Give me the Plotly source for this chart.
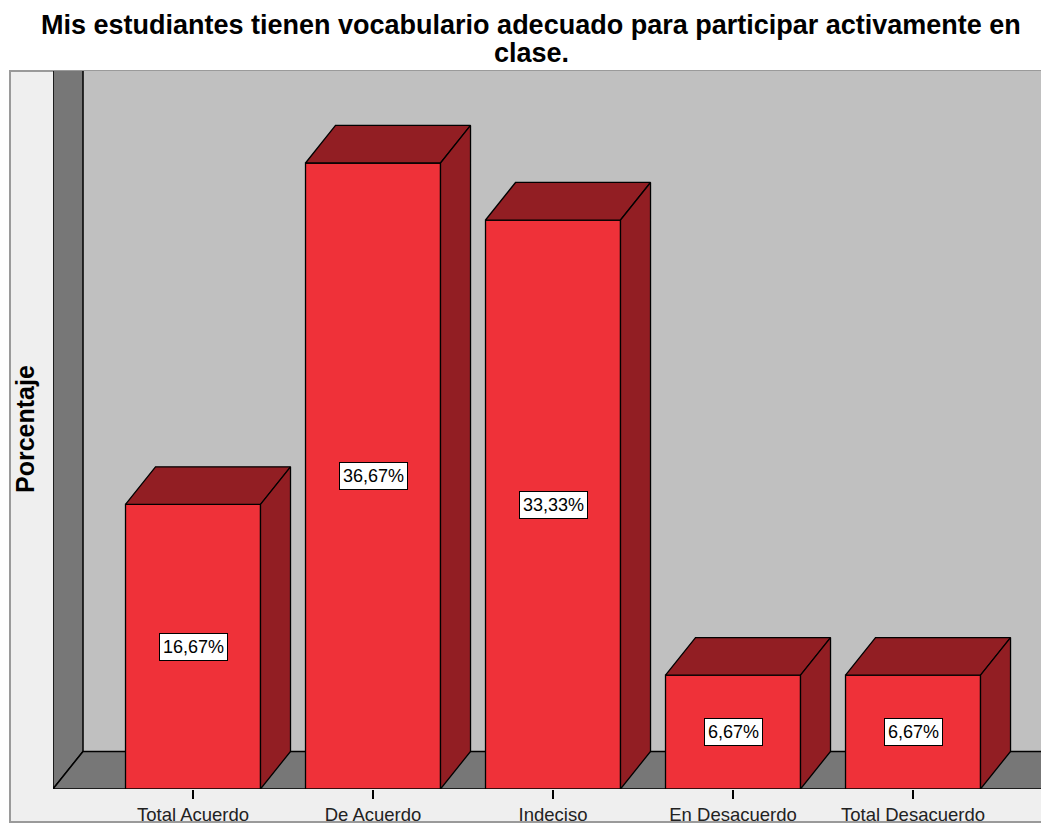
import plotly.graph_objects as go

# ---- data ----
categories = ["Total Acuerdo", "De Acuerdo", "Indeciso", "En Desacuerdo", "Total Desacuerdo"]
values = [16.67, 36.67, 33.33, 6.67, 6.67]
labels = ["16,67%", "36,67%", "33,33%", "6,67%", "6,67%"]
title_lines = ["Mis estudiantes tienen vocabulario adecuado para participar activamente en", "clase."]
y_title = "Porcentaje"

# ---- geometry (in axis units) ----
W = 0.75          # bar width (category units)
DX = 0.1667       # 3D depth offset x
DY = 2.2          # 3D depth offset y
XMIN, XMAX = -0.7778, 4.711
YMAX = 42.06

FRONT = "#ef3139"
DARK = "#921e23"
WALL_SIDE = "#777777"
WALL_BACK = "#c0c0c0"
STRIP = "#efefef"
FONT = "Liberation Sans"

fig = go.Figure()

def poly(xs, ys, fill, lw=1.3):
    fig.add_trace(go.Scatter(
        x=xs + [xs[0]], y=ys + [ys[0]], mode="lines", fill="toself",
        fillcolor=fill, line=dict(color="black", width=lw),
        hoverinfo="skip", showlegend=False))

# walls
poly([XMIN + DX, XMAX + 0.5, XMAX + 0.5, XMIN + DX], [DY, DY, YMAX + 5, YMAX + 5], WALL_BACK, 0)
poly([XMIN, XMIN + DX, XMIN + DX, XMIN], [0, DY, YMAX + 5, YMAX + 5], WALL_SIDE, 1.5)
poly([XMIN, XMIN + DX, XMAX + 0.5, XMAX + 0.5], [0, DY, DY, 0], WALL_SIDE, 1.5)

# bars
for i, v in enumerate(values):
    l, r = i - W / 2, i + W / 2
    poly([l, r, r, l], [0, 0, v, v], FRONT)
    poly([l, r, r + DX, l + DX], [v, v, v + DY, v + DY], DARK)
    poly([r, r + DX, r + DX, r], [0, DY, v + DY, v], DARK)
    fig.add_annotation(x=i, y=v / 2, text=labels[i], showarrow=False,
                       font=dict(family=FONT, size=18, color="black"),
                       bgcolor="white", bordercolor="black", borderwidth=1, borderpad=3)

L, T, B = 53, 71, 36
pw, ph = 1041 - L, 825 - T - B

def px_x(p):
    return (p - L) / pw

def px_y(p):
    return (825 - B - p) / ph

# outer frame
fig.add_shape(type="rect", xref="paper", yref="paper",
              x0=px_x(10), x1=px_x(1045), y0=px_y(822), y1=px_y(71),
              fillcolor=STRIP, line=dict(color="#9a9a9a", width=2), layer="below")

for k, (line, yc) in enumerate(zip(title_lines, [24.5, 53])):
    fig.add_annotation(xref="paper", yref="paper", x=px_x(531), y=px_y(yc),
                       xanchor="center", yanchor="middle",
                       text="<b>" + line + "</b>", showarrow=False,
                       font=dict(family=FONT, size=27, color="black"))
fig.add_annotation(xref="paper", yref="paper", x=px_x(25), y=px_y(429),
                   xanchor="center", yanchor="middle", textangle=-90,
                   text="<b>" + y_title + "</b>", showarrow=False,
                   font=dict(family=FONT, size=25, color="black"))

fig.update_xaxes(range=[XMIN, XMAX], tickvals=list(range(len(categories))), ticktext=categories,
                 ticks="outside", ticklen=9, tickcolor="black", tickwidth=1.5,
                 showgrid=False, zeroline=False, showline=False,
                 tickfont=dict(family=FONT, size=18.5, color="#222222"))
fig.update_yaxes(range=[0, YMAX], showticklabels=False, showgrid=False, zeroline=False,
                 showline=False, ticks="")

fig.update_layout(width=1041, height=825, margin=dict(l=L, r=0, t=T, b=B),
                  paper_bgcolor="white", plot_bgcolor="rgba(0,0,0,0)", showlegend=False)

fig.write_html("out.html", config={"displayModeBar": False},
               post_script="document.body.style.margin='0';document.body.style.overflow='hidden';")
